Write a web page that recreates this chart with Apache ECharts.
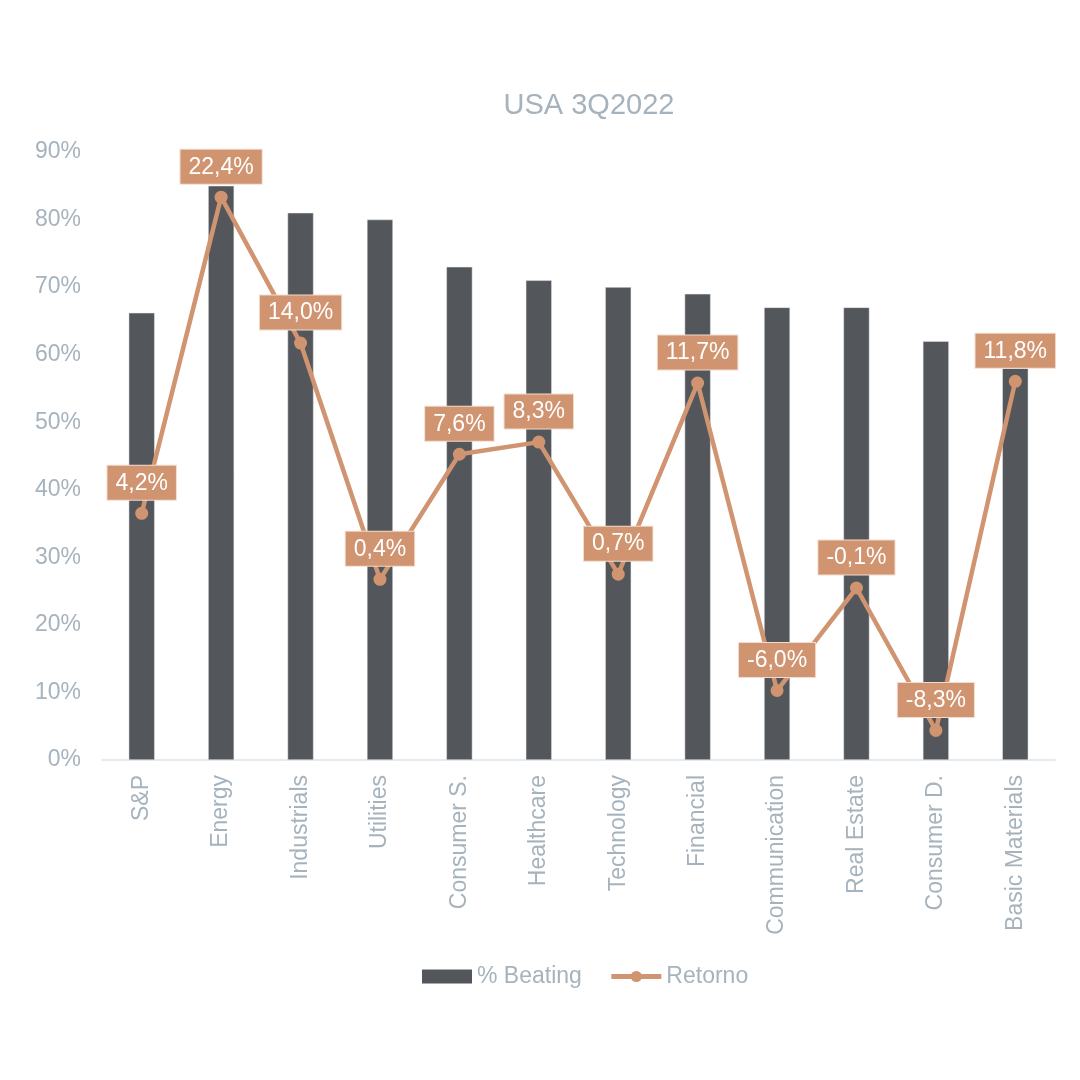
<!DOCTYPE html>
<html>
<head>
<meta charset="utf-8">
<script src="https://cdn.jsdelivr.net/npm/echarts@6/dist/echarts.min.js"></script>
<style>html,body{margin:0;padding:0;background:#fff}#c{width:1080px;height:1080px}</style>
</head>
<body>
<div id="c"></div>
<script>
const categories = ['S&P','Energy','Industrials','Utilities','Consumer S.','Healthcare','Technology','Financial','Communication','Real Estate','Consumer D.','Basic Materials'];
const beating = [66.2, 85, 81, 80, 73, 71, 70, 69, 67, 67, 62, 58];
const retorno = [4.2, 22.4, 14.0, 0.4, 7.6, 8.3, 0.7, 11.7, -6.0, -0.1, -8.3, 11.8];
const yTicks = [0, 10, 20, 30, 40, 50, 60, 70, 80, 90];

const txt = '#A6B3BD';
const font = 'Liberation Sans, Arial, sans-serif';
const chart = echarts.init(document.getElementById('c'));
chart.setOption({
  backgroundColor: '#fff',
  textStyle: { fontFamily: font },
  title: {
    text: 'USA 3Q2022', left: 584, top: 86, textAlign: 'center',
    textStyle: { color: txt, fontSize: 29, fontWeight: 'normal', fontFamily: font }
  },
  legend: {
    top: 960, left: 417, itemWidth: 50, itemHeight: 14, itemGap: 27,
    textStyle: { color: txt, fontSize: 23 },
    data: [
      { name: '% Beating', icon: 'rect', itemStyle: { borderWidth: 0 } },
      { name: 'Retorno', lineStyle: { width: 5 } }
    ]
  },
  grid: { left: 102, right: 25, top: 152, bottom: 320 },
  xAxis: {
    type: 'category', data: categories,
    axisLine: { lineStyle: { color: '#DDE4EA', width: 1.5 } },
    axisTick: { show: false },
    axisLabel: { rotate: 90, color: txt, fontSize: 23, margin: 15, interval: 0 }
  },
  yAxis: [
    {
      type: 'value', min: yTicks[0], max: yTicks[yTicks.length - 1], interval: 10,
      splitLine: { show: false }, axisLine: { show: false }, axisTick: { show: false },
      axisLabel: { color: txt, fontSize: 23, margin: 21, formatter: v => v + '%' }
    },
    {
      type: 'value', min: -10, max: 25, show: false, splitLine: { show: false }
    }
  ],
  series: [
    {
      name: '% Beating', type: 'bar', data: beating, barWidth: 26,
      itemStyle: { color: '#53565B', borderColor: '#E6E8EA', borderWidth: 0.5 }
    },
    {
      name: 'Retorno', type: 'line', yAxisIndex: 1, data: retorno,
      symbol: 'circle', symbolSize: 13,
      lineStyle: { color: '#D09470', width: 4.5 },
      itemStyle: { color: '#D09470' },
      label: {
        show: true, position: 'top', distance: 7,
        backgroundColor: '#D09470', color: '#fff', fontSize: 23,
        padding: [6, 8, 5, 8], borderColor: '#F2DCCD', borderWidth: 1,
        formatter: p => p.value.toFixed(1).replace('.', ',') + '%'
      },
      z: 5
    }
  ]
});
</script>
</body>
</html>
